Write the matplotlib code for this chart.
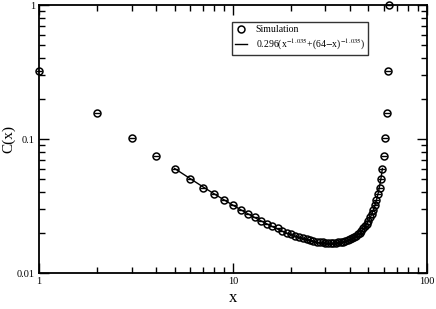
import matplotlib
matplotlib.use('Agg')
from matplotlib import pyplot as plt
import numpy as np

plt.rcParams['font.family'] = ['Liberation Serif', 'DejaVu Serif']
plt.rcParams['mathtext.fontset'] = 'stix'

# simulation data
sim_x = list(range(1, 65))
sim_y = [0.322, 0.157, 0.101, 0.0750, 0.0598, 0.0500, 0.0434, 0.0386,
         0.0349, 0.0320, 0.0296, 0.0277, 0.0260, 0.0246, 0.0234, 0.0224,
         0.0215, 0.0207, 0.0200, 0.0194, 0.0189, 0.0185, 0.0181, 0.0178,
         0.0175, 0.0173, 0.0171, 0.0170, 0.0169, 0.0168, 0.0168, 0.0168,
         0.0168, 0.0168, 0.0169, 0.0170, 0.0171, 0.0173, 0.0175, 0.0178,
         0.0181, 0.0185, 0.0189, 0.0194, 0.0200, 0.0207, 0.0215, 0.0224,
         0.0234, 0.0246, 0.0260, 0.0277, 0.0296, 0.0320, 0.0349, 0.0386,
         0.0434, 0.0500, 0.0598, 0.0750, 0.101, 0.157, 0.322, 1.0]

# fit curve values, x = 5..59
fit_x = list(range(5, 60))
fit_y = [0.0603, 0.0508, 0.0440, 0.0390, 0.03514, 0.03208, 0.02960, 0.02757,
         0.02587, 0.02444, 0.02322, 0.02217, 0.02127, 0.02049, 0.01981, 0.01922,
         0.01871, 0.01826, 0.01787, 0.01754, 0.01726, 0.01702, 0.01682, 0.01666,
         0.01654, 0.01645, 0.01640, 0.01639, 0.01640, 0.01645, 0.01654, 0.01666,
         0.01682, 0.01702, 0.01726, 0.01754, 0.01787, 0.01826, 0.01871, 0.01922,
         0.01981, 0.02049, 0.02127, 0.02217, 0.02322, 0.02444, 0.02587, 0.02757,
         0.02960, 0.03208, 0.03514, 0.0390, 0.0440, 0.0508, 0.0603]

fig = plt.figure(figsize=(4.36, 3.09), dpi=100)
ax = fig.add_axes([0.0894, 0.1165, 0.8896, 0.8673])

ax.plot(fit_x, fit_y, 'k-', lw=1.0, label=r'0.296(x$^{-1.035}$+(64$-$x)$^{-1.035}$)')
ax.plot(sim_x, sim_y, 'o', mfc='none', mec='k', ms=5, mew=1.1, label='Simulation', clip_on=False)
ax.plot(sim_x, sim_y, '_', color='k', ms=5, mew=1.0, clip_on=False)

ax.set_xscale('log')
ax.set_yscale('log')
ax.set_xlim(1, 100)
ax.set_ylim(0.01, 1)
ax.set_xticks([1, 10, 100])
ax.set_xticklabels(['1', '10', '100'])
ax.set_yticks([0.01, 0.1, 1])
ax.set_yticklabels(['0.01', '0.1', '1'])
ax.tick_params(which='both', direction='in', top=True, right=True, labelsize=7.5, width=1.0)
ax.tick_params(which='major', length=7, pad=3)
ax.tick_params(which='minor', length=4)
for s in ax.spines.values():
    s.set_linewidth(1.3)

ax.set_xlabel('x', fontsize=12, labelpad=3)
ax.set_ylabel('C(x)', fontsize=11)
ax.yaxis.set_label_coords(-0.062, 0.5)

h, l = ax.get_legend_handles_labels()
leg = ax.legend([h[1], h[0]], [l[1], l[0]], loc='upper left', bbox_to_anchor=(0.497, 0.937),
                fontsize=7, frameon=True, fancybox=False, edgecolor='k',
                handlelength=1.2, borderpad=0.35, labelspacing=0.25, handletextpad=0.9,
                borderaxespad=0)
leg.get_frame().set_linewidth(1.0)

plt.savefig('out.png', dpi=100)
plt.close()
